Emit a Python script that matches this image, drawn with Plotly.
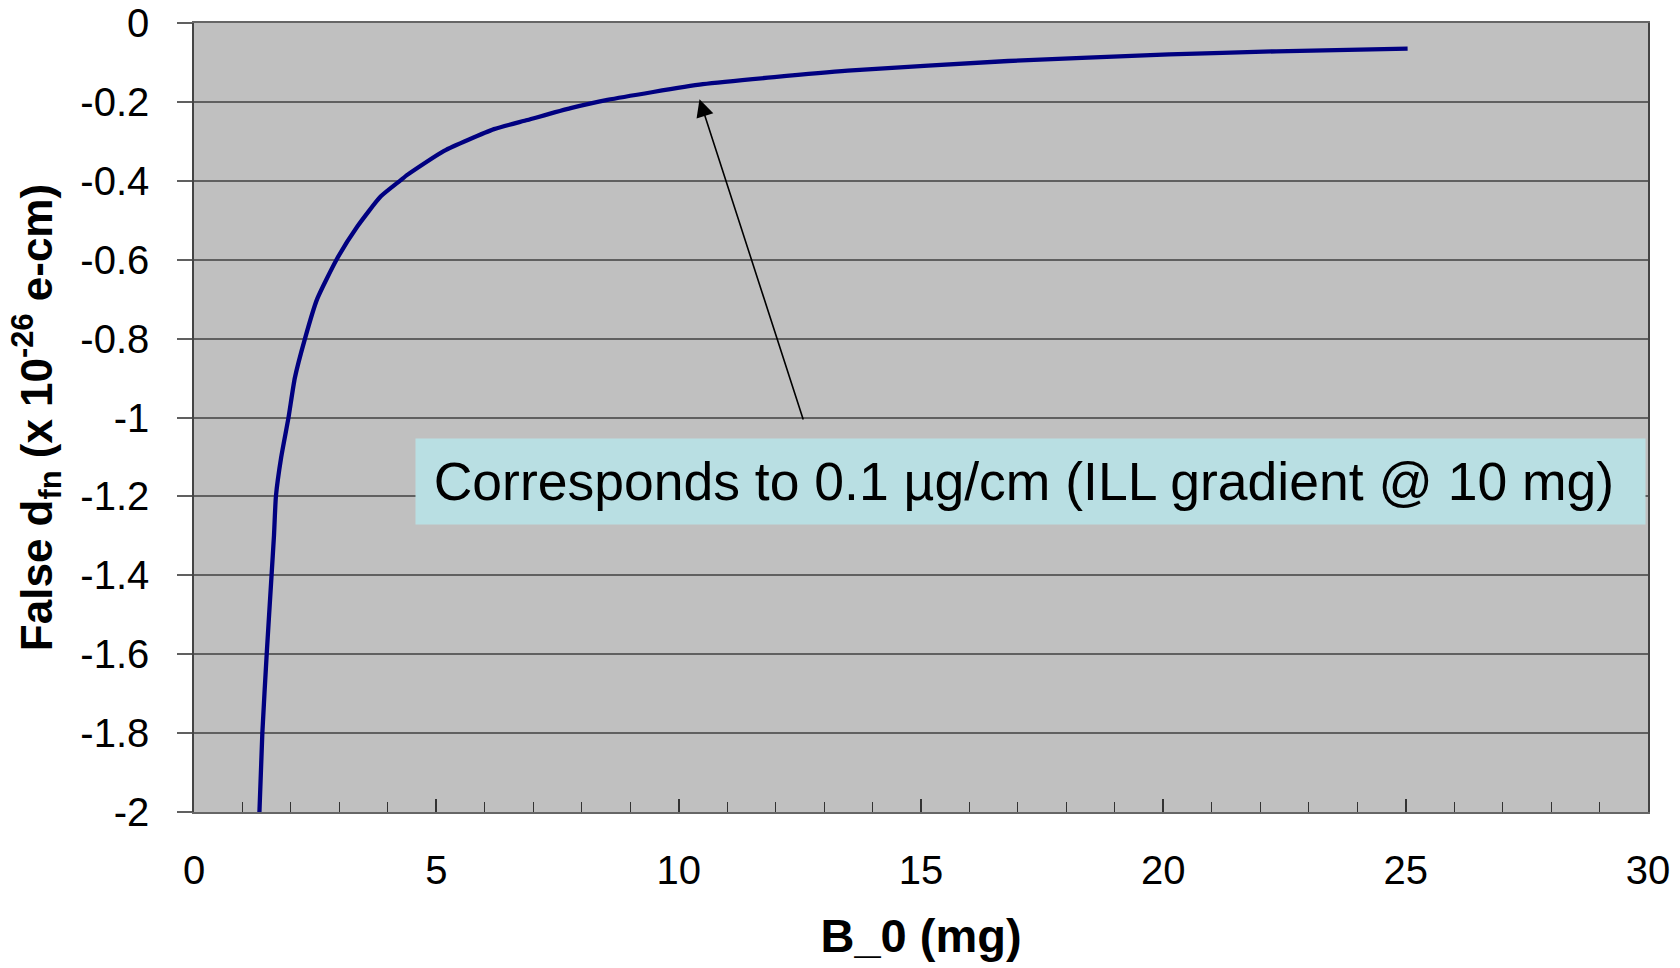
import plotly.graph_objects as go

# Curve values
b0_mg = [1.35, 1.41, 1.50, 1.60, 1.65, 1.69, 1.80, 1.95, 2.08, 2.29, 2.54, 2.94,
         3.37, 3.85, 4.26, 4.40, 5.16, 6.19, 6.88, 7.77, 8.53, 10.5, 13.49, 16.8,
         20.12, 22.33, 25.04]
false_dfn = [-2.0, -1.8, -1.6, -1.4, -1.3, -1.2, -1.1, -1.0, -0.9, -0.8, -0.7, -0.6,
             -0.516, -0.44, -0.399, -0.385, -0.324, -0.269, -0.246, -0.216, -0.195, -0.155, -0.121, -0.0963,
             -0.0795, -0.0718, -0.065]

x_tick_vals = [0, 5, 10, 15, 20, 25, 30]
x_tick_text = ["0", "5", "10", "15", "20", "25", "30"]
x_minor_vals = list(range(0, 31))
y_tick_vals = [0, -0.2, -0.4, -0.6, -0.8, -1, -1.2, -1.4, -1.6, -1.8, -2]
y_tick_text = ["0", "-0.2", "-0.4", "-0.6", "-0.8", "-1", "-1.2", "-1.4", "-1.6", "-1.8", "-2"]

note_text = "\u2009Corresponds to 0.1 \u00b5g/cm (ILL gradient @ 10 mg)"
note_x, note_y = 17.26, -1.162
arrow_head = (10.43, -0.193)
arrow_tail = (12.58, -1.009)

FONT = "Liberation Sans, Arial, sans-serif"

fig = go.Figure()
fig.add_trace(go.Scatter(
    x=b0_mg, y=false_dfn, mode="lines",
    line=dict(color="#000080", width=4.3, shape="spline", smoothing=0.5),
    showlegend=False, hoverinfo="skip"))

fig.add_annotation(
    x=arrow_head[0], y=arrow_head[1], xref="x", yref="y",
    ax=arrow_tail[0], ay=arrow_tail[1], axref="x", ayref="y",
    text="", showarrow=True, arrowhead=2, arrowsize=2.2, arrowwidth=1.6,
    arrowcolor="#000000")

fig.add_annotation(
    x=note_x, y=note_y, xref="x", yref="y", text=note_text, showarrow=False,
    font=dict(family=FONT, size=53.5, color="#000000"),
    bgcolor="#B9DFE3", width=1215, height=71, borderpad=7, align="left")

fig.update_layout(
    width=1680, height=968,
    margin=dict(l=194, r=32, t=23, b=156, autoexpand=False),
    paper_bgcolor="#FFFFFF", plot_bgcolor="#C0C0C0",
    font=dict(family=FONT, color="#000000"),
)

fig.update_xaxes(
    range=[0, 30], tickvals=x_tick_vals, ticktext=x_tick_text,
    ticks="inside", ticklen=13, tickwidth=1.5, tickcolor="#333333",
    minor=dict(tickvals=x_minor_vals, ticks="inside", ticklen=10, tickwidth=1.2, tickcolor="#333333", showgrid=False),
    showgrid=False, zeroline=False, automargin=False,
    showline=True, linecolor="#666666", linewidth=2, mirror=True,
    tickfont=dict(family=FONT, size=40, color="#000000"),
    ticklabelstandoff=22,
    title=dict(text="<b>B_0 (mg)</b>", font=dict(family=FONT, size=47, color="#000000"), standoff=28),
)

fig.update_yaxes(
    range=[-2, 0], tickvals=y_tick_vals, ticktext=y_tick_text,
    ticks="outside", ticklen=15, tickwidth=1.5, tickcolor="#606060",
    showgrid=True, gridcolor="#606060", gridwidth=1.5, zeroline=False, automargin=False,
    showline=True, linecolor="#444444", linewidth=1.5, mirror=True,
    tickfont=dict(family=FONT, size=40, color="#000000"),
    ticklabelstandoff=20,
    title=dict(text="<b>False d<sub>fn</sub> (x 10<sup>-26</sup> e-cm)</b>",
               font=dict(family=FONT, size=44, color="#000000"), standoff=14),
)

fig.write_html("out.html")
